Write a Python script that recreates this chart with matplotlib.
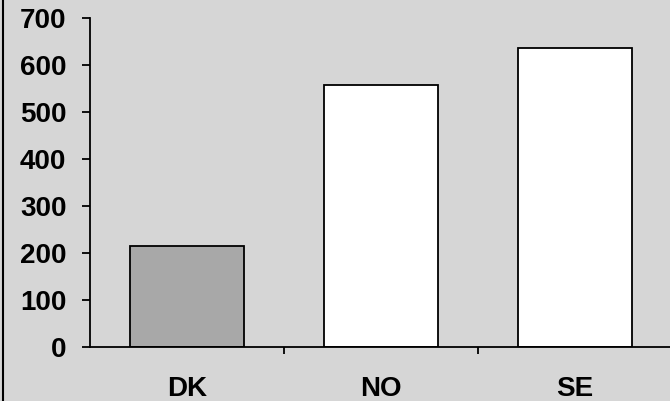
import matplotlib
matplotlib.use("Agg")
from matplotlib import pyplot as plt
from matplotlib.lines import Line2D

countries = ["DK", "NO", "SE"]
values = [215, 557, 637]
bar_colors = ["#a8a8a8", "white", "white"]
yticks = [0, 100, 200, 300, 400, 500, 600, 700]

plt.rcParams["font.family"] = ["Liberation Sans", "DejaVu Sans"]
plt.rcParams["font.weight"] = "bold"

bg = "#d6d6d6"
fig = plt.figure(figsize=(6.7, 4.01), dpi=100, facecolor=bg)
ax = fig.add_axes([90 / 670, 54 / 401, 582 / 670, 329 / 401], facecolor=bg)

x = range(len(countries))
ax.bar(x, values, width=0.59, color=bar_colors, edgecolor="black", linewidth=1.3)

ax.set_xlim(-0.5, 2.5)
ax.set_ylim(0, 700)
ax.set_yticks(yticks)
ax.set_yticklabels([str(v) for v in yticks], fontsize=20, fontweight="bold")
ax.set_xticks(list(x))
ax.set_xticklabels(countries, fontsize=20, fontweight="bold")
ax.set_xticks([0.5, 1.5], minor=True)

ax.tick_params(axis="y", direction="out", length=6, width=1.3, pad=11)
ax.tick_params(axis="x", which="major", length=0, pad=21)
ax.tick_params(axis="x", which="minor", direction="out", length=5, width=1.3)

for side in ["top", "right"]:
    ax.spines[side].set_visible(False)
ax.spines["left"].set_linewidth(1.3)
ax.spines["bottom"].set_linewidth(1.3)

# left frame line of the original picture
fig.add_artist(Line2D([2.5 / 670, 2.5 / 670], [0, 1], color="black", linewidth=1.5))

fig.savefig("out.png", dpi=100, facecolor=bg)
